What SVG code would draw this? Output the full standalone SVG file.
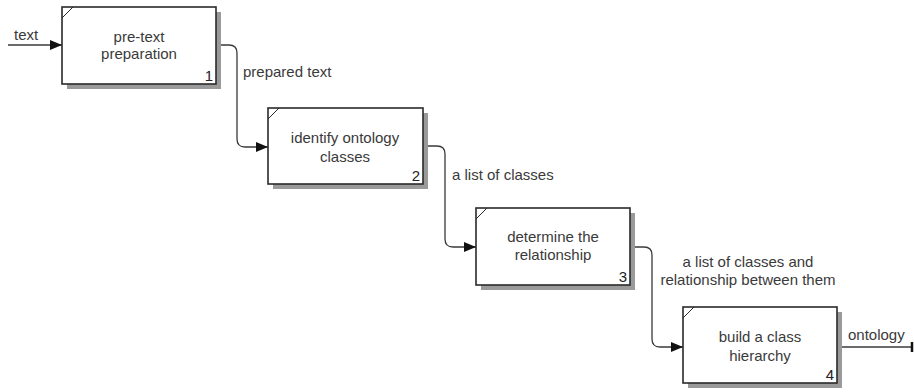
<svg xmlns="http://www.w3.org/2000/svg" width="914" height="392" viewBox="0 0 914 392">
<style>
.shadow{fill:#9a9a9a}
.box{fill:#fff;stroke:#2a2a2a;stroke-width:1.6}
.corner{stroke:#2a2a2a;stroke-width:1;fill:none}
.t{font-family:"Liberation Sans",Arial,sans-serif;font-size:15px;fill:#3a3a3a}
.c{text-anchor:middle}
.n{text-anchor:end;font-size:15px;fill:#222}
.line{fill:none;stroke:#3a3a3a;stroke-width:1.3}
</style>
<defs>
<marker id="arr" markerWidth="12" markerHeight="10" refX="12" refY="5" orient="auto" markerUnits="userSpaceOnUse">
<path d="M0,0 L12,5 L0,10 Z" fill="#111"/>
</marker>
</defs>
<g id="connectors">
<path class="line" d="M8,45 H62" marker-end="url(#arr)"/>
<path class="line" d="M216,45 H229 Q237,45 237,53 V139 Q237,147 245,147 H268" marker-end="url(#arr)"/>
<path class="line" d="M423,146 H437 Q445,146 445,154 V239 Q445,247 453,247 H476" marker-end="url(#arr)"/>
<path class="line" d="M630,247 H644 Q652,247 652,255 V339 Q652,347 660,347 H683" marker-end="url(#arr)"/>
<path class="line" d="M837,347 H912"/>
<path d="M912,342 V352" stroke="#111" stroke-width="2.5"/>
<text class="t" x="14" y="40">text</text>
<text class="t" x="243" y="77">prepared text</text>
<text class="t" x="452" y="180">a list of classes</text>
<text class="t c" x="748" y="267">a list of classes and</text>
<text class="t c" x="748" y="285">relationship between them</text>
<text class="t" x="848" y="340">ontology</text>
</g>
<g id="node1">
<rect class="shadow" x="67" y="12" width="154" height="77"/>
<rect class="box" x="62" y="7" width="154" height="77"/>
<path class="corner" d="M62,18 L73,7"/>
<text class="t c" x="139" y="42">pre-text</text>
<text class="t c" x="139" y="59">preparation</text>
<text class="t n" x="213" y="81">1</text>
</g>
<g id="node2">
<rect class="shadow" x="273" y="113" width="155" height="76"/>
<rect class="box" x="268" y="108" width="155" height="76"/>
<path class="corner" d="M268,119 L279,108"/>
<text class="t c" x="345" y="143">identify ontology</text>
<text class="t c" x="345" y="162">classes</text>
<text class="t n" x="420" y="181">2</text>
</g>
<g id="node3">
<rect class="shadow" x="481" y="213" width="154" height="77"/>
<rect class="box" x="476" y="208" width="154" height="77"/>
<path class="corner" d="M476,219 L487,208"/>
<text class="t c" x="553" y="242">determine the</text>
<text class="t c" x="553" y="260">relationship</text>
<text class="t n" x="627" y="282">3</text>
</g>
<g id="node4">
<rect class="shadow" x="688" y="312" width="154" height="76"/>
<rect class="box" x="683" y="307" width="154" height="76"/>
<path class="corner" d="M683,318 L694,307"/>
<text class="t c" x="760" y="342">build a class</text>
<text class="t c" x="760" y="361">hierarchy</text>
<text class="t n" x="834" y="380">4</text>
</g>
</svg>
